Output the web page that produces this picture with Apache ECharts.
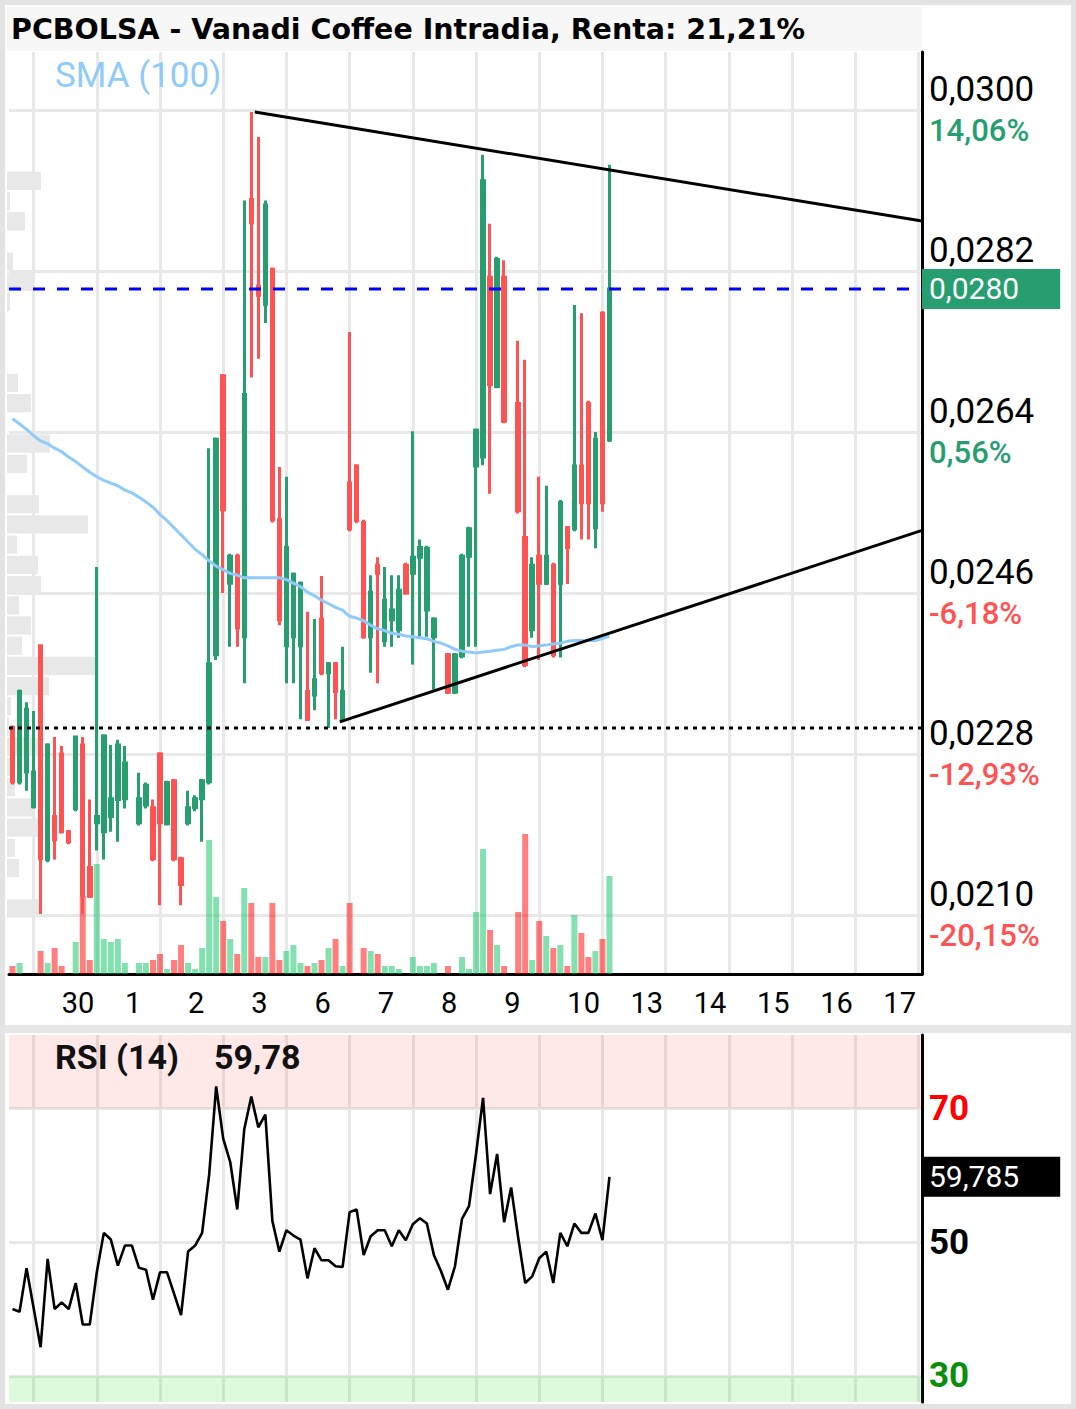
<!DOCTYPE html>
<html>
<head>
<meta charset="utf-8">
<script src="https://cdn.jsdelivr.net/npm/echarts@6/dist/echarts.min.js"></script>
<style>
  html, body { margin: 0; padding: 0; background: #fff; }
  #chart { width: 1076px; height: 1409px; }
</style>
</head>
<body>
<div id="chart"></div>
<script>
// hourly bars, 9 per session
const days = ['29', '30', '1', '2', '3', '6', '7', '8', '9', '10', '13', '14', '15', '16', '17']
const hours = ['09:00', '10:00', '11:00', '12:00', '13:00', '14:00', '15:00', '16:00', '17:00']
const firstHour = 2
const slotCount = 130

// [open, close, low, high]
const candles = [
  [0.02310, 0.02249, 0.02246, 0.02312], [0.02249, 0.02350, 0.02246, 0.02352],
  [0.02260, 0.02330, 0.02239, 0.02338], [0.02221, 0.02260, 0.02219, 0.02328],
  [0.02401, 0.02163, 0.02101, 0.02401], [0.02162, 0.02290, 0.02159, 0.02292],
  [0.02210, 0.02184, 0.02162, 0.02299], [0.02280, 0.02193, 0.02191, 0.02289],
  [0.02193, 0.02182, 0.02179, 0.02195], [0.02219, 0.02299, 0.02216, 0.02299],
  [0.02290, 0.02122, 0.02101, 0.02299], [0.02153, 0.02121, 0.02119, 0.02229],
  [0.02203, 0.02210, 0.02172, 0.02489], [0.02193, 0.02300, 0.02162, 0.02302],
  [0.02210, 0.02230, 0.02193, 0.02290], [0.02229, 0.02290, 0.02182, 0.02296],
  [0.02230, 0.02270, 0.02219, 0.02289], null,
  [0.02203, 0.02230, 0.02200, 0.02259], [0.02223, 0.02245, 0.02219, 0.02248],
  [0.02220, 0.02163, 0.02160, 0.02229], [0.02280, 0.02203, 0.02111, 0.02282],
  [0.02202, 0.02248, 0.02200, 0.02250], [0.02250, 0.02163, 0.02160, 0.02252],
  [0.02163, 0.02134, 0.02111, 0.02165], [0.02203, 0.02220, 0.02200, 0.02239],
  [0.02220, 0.02230, 0.02216, 0.02234], [0.02230, 0.02250, 0.02182, 0.02252],
  [0.02249, 0.02381, 0.02246, 0.02622], [0.02391, 0.02632, 0.02385, 0.02634],
  [0.02703, 0.02553, 0.02460, 0.02705], [0.02471, 0.02501, 0.02400, 0.02504],
  [0.02501, 0.02421, 0.02400, 0.02504], [0.02411, 0.02682, 0.02359, 0.02899],
  [0.02900, 0.02874, 0.02701, 0.02998], [0.02803, 0.02793, 0.02722, 0.02970],
  [0.02783, 0.02894, 0.02762, 0.02899], [0.02822, 0.02542, 0.02539, 0.02824],
  [0.02542, 0.02430, 0.02424, 0.02601], [0.02401, 0.02511, 0.02359, 0.02590],
  [0.02411, 0.02481, 0.02359, 0.02483], [0.02401, 0.02471, 0.02319, 0.02473],
  [0.02350, 0.02319, 0.02317, 0.02439], [0.02346, 0.02363, 0.02329, 0.02431],
  [0.02431, 0.02371, 0.02368, 0.02479], [0.02371, 0.02381, 0.02309, 0.02383],
  [0.02381, 0.02350, 0.02319, 0.02383], [0.02319, 0.02350, 0.02317, 0.02400],
  [0.02583, 0.02532, 0.02529, 0.02752], [0.02602, 0.02541, 0.02538, 0.02604],
  [0.02539, 0.02411, 0.02409, 0.02542], [0.02411, 0.02461, 0.02371, 0.02480],
  [0.02491, 0.02482, 0.02359, 0.02500], [0.02407, 0.02452, 0.02400, 0.02489],
  [0.02430, 0.02441, 0.02400, 0.02480], [0.02419, 0.02463, 0.02410, 0.02480],
  [0.02491, 0.02460, 0.02458, 0.02494], [0.02482, 0.02500, 0.02380, 0.02641],
  [0.02500, 0.02511, 0.02411, 0.02520], [0.02441, 0.02510, 0.02411, 0.02513],
  [0.02411, 0.02431, 0.02352, 0.02433], null,
  [0.02391, 0.02349, 0.02347, 0.02393], [0.02349, 0.02391, 0.02347, 0.02393],
  [0.02390, 0.02501, 0.02387, 0.02504], [0.02501, 0.02532, 0.02400, 0.02534],
  [0.02602, 0.02642, 0.02400, 0.02644], [0.02612, 0.02921, 0.02603, 0.02950],
  [0.02813, 0.02693, 0.02571, 0.02873], [0.02691, 0.02833, 0.02689, 0.02836],
  [0.02813, 0.02652, 0.02650, 0.02832], null,
  [0.02672, 0.02552, 0.02549, 0.02742], [0.02522, 0.02380, 0.02377, 0.02721],
  [0.02419, 0.02491, 0.02410, 0.02500], [0.02501, 0.02471, 0.02385, 0.02590],
  [0.02471, 0.02501, 0.02469, 0.02580], [0.02491, 0.02391, 0.02388, 0.02494],
  [0.02471, 0.02561, 0.02388, 0.02564], [0.02533, 0.02511, 0.02470, 0.02535],
  [0.02532, 0.02602, 0.02529, 0.02782], [0.02602, 0.02561, 0.02520, 0.02773],
  [0.02672, 0.02561, 0.02520, 0.02675], [0.02533, 0.02632, 0.02510, 0.02640],
  [0.02773, 0.02561, 0.02551, 0.02775], [0.02631, 0.02800, 0.02629, 0.02939]
]

// thousands of shares
const volumes = [
  80, 110, 0, 0, 230, 110, 260, 80, 0, 320,
  780, 140, 1100, 350, 320, 350, 110, 0, 110, 110,
  140, 200, 50, 140, 290, 110, 50, 260, 1340, 770,
  530, 350, 200, 860, 710, 170, 170, 710, 140, 230,
  290, 110, 80, 110, 140, 260, 350, 80, 710, 0,
  260, 230, 200, 80, 80, 50, 0, 170, 80, 80,
  110, 0, 80, 0, 170, 50, 620, 1250, 440, 290,
  80, 0, 620, 1400, 140, 530, 380, 260, 290, 80,
  590, 410, 170, 230, 350, 980
]

const sma100 = [
  0.02655, 0.02649, 0.02643, 0.02636, 0.02630, 0.02627, 0.02622, 0.02618, 0.02612, 0.02607,
  0.02601, 0.02595, 0.02590, 0.02586, 0.02583, 0.02580, 0.02575, 0.02572, 0.02567, 0.02562,
  0.02556, 0.02548, 0.02541, 0.02533, 0.02525, 0.02517, 0.02509, 0.02503, 0.02496, 0.02490,
  0.02486, 0.02482, 0.02480, 0.02477, 0.02477, 0.02477, 0.02477, 0.02477, 0.02477, 0.02475,
  0.02471, 0.02467, 0.02461, 0.02457, 0.02452, 0.02448, 0.02444, 0.02441, 0.02434, 0.02432,
  0.02429, 0.02424, 0.02420, 0.02418, 0.02415, 0.02414, 0.02412, 0.02411, 0.02410, 0.02409,
  0.02406, 0.02404, 0.02401, 0.02397, 0.02395, 0.02394, 0.02393, 0.02394, 0.02395, 0.02396,
  0.02397, 0.02400, 0.02402, 0.02402, 0.02400, 0.02401, 0.02402, 0.02403, 0.02404, 0.02406,
  0.02407, 0.02407, 0.02407, 0.02407, 0.02409, 0.02412
]

const rsi14 = [
  40.0, 39.6, 46.1, 40.2, 34.3, 47.5, 40.0, 41.0, 40.0, 43.9,
  37.7, 37.7, 45.5, 51.4, 50.4, 46.5, 49.5, 49.5, 46.2, 45.9,
  41.4, 45.5, 45.5, 42.3, 39.1, 48.6, 49.5, 51.4, 60.1, 73.3,
  65.5, 62.0, 54.9, 66.9, 71.8, 67.2, 69.1, 53.2, 48.6, 51.8,
  51.0, 50.4, 44.6, 49.1, 47.3, 47.3, 46.4, 46.3, 54.5, 54.9,
  48.1, 50.9, 51.8, 51.8, 49.4, 51.8, 50.3, 52.7, 53.6, 52.8,
  48.1, 45.7, 42.9, 46.4, 53.5, 55.4, 63.2, 71.6, 57.2, 63.2,
  53.0, 58.2, 50.7, 43.9, 44.9, 47.6, 48.6, 43.9, 51.4, 49.4,
  52.8, 51.4, 51.4, 54.3, 50.3, 59.785
]

// volume at price, top bin first
const profileTop = 0.0300
const profileStep = 0.000226
const profileVol = [
  0, 0, 0, 340, 30, 180, 0, 60, 260, 30,
  0, 0, 0, 110, 240, 0, 430, 200, 0, 320,
  810, 100, 310, 340, 120, 240, 150, 900, 420, 40,
  20, 320, 30, 80, 280, 330, 80, 120, 0, 340
]

const upperTrend = [[34.5, 0.02998], [129.5, 0.02876]]
const lowerTrend = [[46.6, 0.02316], [129.5, 0.02530]]
const lastPrice = 0.0280
const supportLevel = 0.02309
const lastRsi = 59.785

const priceTicks = [0.0300, 0.0282, 0.0264, 0.0246, 0.0228, 0.0210]
const priceTickText = ['0,0300', '0,0282', '0,0264', '0,0246', '0,0228', '0,0210']
const changeText = ['14,06%', '', '0,56%', '-6,18%', '-12,93%', '-20,15%']
const rsiTicks = [30, 50, 70]

const green = '#279e70'
const red = '#ff5252'
const grey = '#e8e8e8'
const font = 'Roboto'

const categories = days
  .flatMap((d) => hours.map((h) => d + ' ' + h))
  .slice(firstHour, firstHour + slotCount)

const isUp = (i) => candles[i] && candles[i][1] >= candles[i][0]
const dayStart = (i, v) => v.endsWith('09:00')
const gridEvery = (i, v) => v.endsWith('14:00')
const fullSpan = (y) => [[-0.5, y], [slotCount - 0.5, y]]

const profileData = profileVol.map((v, k) => [
  v,
  profileTop - (k + 1) * profileStep,
  profileTop - k * profileStep
])

const tagLabel = (text, bg) => ({
  show: true, formatter: text, distance: 0,
  fontFamily: font, fontSize: 30, lineHeight: 32, color: '#fff',
  backgroundColor: bg, padding: [4, 41, 4, 7]
})

const chart = echarts.init(document.getElementById('chart'), null, { renderer: 'svg' })

chart.setOption({
  animation: false,
  backgroundColor: '#fff',
  textStyle: { fontFamily: font },
  title: [
    {
      text: 'PCBOLSA - Vanadi Coffee Intradia, Renta: 21,21%',
      left: 11, top: 11, padding: 0,
      textStyle: { fontFamily: 'DejaVu Sans', fontWeight: 'bold', fontSize: 28.5, lineHeight: 36, color: '#000' }
    },
    {
      text: 'SMA (100)',
      left: 55, top: 55, padding: 0,
      textStyle: { fontFamily: font, fontWeight: 'normal', fontSize: 35, lineHeight: 40, color: '#90caf9' }
    },
    {
      text: 'RSI (14)',
      left: 55, top: 1037, padding: 0,
      textStyle: { fontFamily: font, fontWeight: 'bold', fontSize: 34, lineHeight: 40, color: '#111' }
    },
    {
      text: '59,78',
      left: 214, top: 1037, padding: 0,
      textStyle: { fontFamily: font, fontWeight: 'bold', fontSize: 34, lineHeight: 40, color: '#111' }
    }
  ],
  graphic: [
    { type: 'rect', z: -1, silent: true, shape: { x: 7, y: 7, width: 915, height: 44 }, style: { fill: '#f7f7f7' } },
    { type: 'rect', silent: true, shape: { x: 0, y: 1025, width: 1076, height: 8 }, style: { fill: '#e6e6e6' } },
    { type: 'rect', z: 100, silent: true, shape: { x: 2.5, y: 2.5, width: 1071, height: 1404 }, style: { fill: 'none', stroke: '#e3e3e3', lineWidth: 5 } }
  ],
  grid: [
    { left: 9, right: 154, top: 52, bottom: 435 },
    { left: 9, right: 154, top: 1035, bottom: 7 }
  ],
  xAxis: [
    {
      type: 'category', gridIndex: 0, data: categories, boundaryGap: true,
      axisLine: { show: true, onZero: false, lineStyle: { color: '#000', width: 3 } },
      axisTick: { show: false },
      axisLabel: {
        interval: dayStart, formatter: (v) => v.split(' ')[0], align: 'left',
        fontFamily: font, fontSize: 29, color: '#000', margin: 14
      },
      splitLine: { show: true, interval: gridEvery, alignWithLabel: true, lineStyle: { color: grey, width: 3 } }
    },
    { type: 'value', gridIndex: 0, min: -0.5, max: slotCount - 0.5, show: false },
    { type: 'value', gridIndex: 0, min: 0, max: 9130, show: false },
    {
      type: 'category', gridIndex: 1, data: categories, boundaryGap: true,
      axisLine: { show: false }, axisTick: { show: false }, axisLabel: { show: false },
      splitLine: { show: true, interval: gridEvery, alignWithLabel: true, lineStyle: { color: grey, width: 3 } }
    },
    { type: 'value', gridIndex: 1, min: -0.5, max: slotCount - 0.5, show: false }
  ],
  yAxis: [
    {
      type: 'value', gridIndex: 0, position: 'right', min: 0.02034, max: 0.03065,
      axisLine: { show: true, onZero: false, lineStyle: { color: '#000', width: 3 } },
      axisTick: { show: false, customValues: priceTicks },
      splitLine: { show: true, lineStyle: { color: grey, width: 3 } },
      axisLabel: {
        customValues: priceTicks,
        margin: 7,
        formatter: (v) => {
          const i = priceTicks.findIndex((t) => Math.abs(t - v) < 1e-7)
          if (i < 0) return ''
          const c = changeText[i]
          const cls = c.startsWith('-') ? 'dn' : 'up'
          return '{p|' + priceTickText[i] + '}\n{' + cls + '|' + (c || ' ') + '}'
        },
        rich: {
          p: { fontFamily: font, fontSize: 35, lineHeight: 41, color: '#000' },
          up: { fontFamily: font, fontSize: 31, fontWeight: 500, lineHeight: 41, color: green },
          dn: { fontFamily: font, fontSize: 31, fontWeight: 500, lineHeight: 41, color: red }
        }
      }
    },
    { type: 'value', gridIndex: 0, min: 0, max: 9220, show: false },
    {
      type: 'value', gridIndex: 1, position: 'right', min: 26.1, max: 81,
      axisLine: { show: true, onZero: false, lineStyle: { color: '#000', width: 3 } },
      axisTick: { show: false, customValues: rsiTicks },
      splitLine: { show: true, lineStyle: { color: grey, width: 3 } },
      axisLabel: {
        customValues: rsiTicks,
        margin: 7,
        formatter: (v) => '{r' + v + '|' + v + '}',
        rich: {
          r70: { fontFamily: font, fontSize: 35, fontWeight: 'bold', color: '#ff0000' },
          r50: { fontFamily: font, fontSize: 35, fontWeight: 'bold', color: '#000' },
          r30: { fontFamily: font, fontSize: 35, fontWeight: 'bold', color: '#0a8f0a' }
        }
      }
    }
  ],
  series: [
    {
      name: 'Perfil', type: 'custom', xAxisIndex: 2, yAxisIndex: 0, z: 1, silent: true,
      data: profileData,
      encode: { x: 0, y: [1, 2] },
      renderItem: (params, api) => {
        const a = api.coord([0, api.value(2)])
        const b = api.coord([api.value(0), api.value(1)])
        return {
          type: 'rect',
          shape: { x: a[0] - 2, y: a[1] + 1, width: b[0] - a[0], height: b[1] - a[1] - 2 },
          style: { fill: grey }
        }
      }
    },
    {
      name: 'Volumen', type: 'bar', xAxisIndex: 0, yAxisIndex: 1, z: 2, barWidth: 6, silent: true,
      data: volumes.map((v, i) => ({
        value: v,
        itemStyle: { color: isUp(i) ? 'rgba(5,195,95,0.5)' : 'rgba(255,0,0,0.5)' }
      }))
    },
    {
      name: 'Vanadi Coffee', type: 'candlestick', xAxisIndex: 0, yAxisIndex: 0, z: 3,
      barWidth: 3,
      data: candles.map((d) => d || ['-', '-', '-', '-']),
      itemStyle: { color: green, color0: red, borderColor: green, borderColor0: red, borderWidth: 3 }
    },
    {
      name: 'SMA (100)', type: 'line', xAxisIndex: 0, yAxisIndex: 0, z: 4,
      data: sma100, symbol: 'none', silent: true,
      lineStyle: { color: '#90caf9', width: 3 }
    },
    {
      name: 'upper', type: 'line', xAxisIndex: 1, yAxisIndex: 0, z: 5, silent: true,
      data: upperTrend, symbol: 'none', lineStyle: { color: '#000', width: 3 }
    },
    {
      name: 'lower', type: 'line', xAxisIndex: 1, yAxisIndex: 0, z: 5, silent: true,
      data: lowerTrend, symbol: 'none', lineStyle: { color: '#000', width: 3 }
    },
    {
      name: 'soporte', type: 'line', xAxisIndex: 1, yAxisIndex: 0, z: 6, silent: true,
      data: fullSpan(supportLevel), symbol: 'none',
      lineStyle: { color: '#000', width: 3, type: [4, 5] }
    },
    {
      name: 'ultimo', type: 'line', xAxisIndex: 1, yAxisIndex: 0, z: 6, silent: true,
      data: fullSpan(lastPrice), symbol: 'none',
      lineStyle: { color: '#0000ff', width: 3, type: [12, 12] },
      endLabel: tagLabel('0,0280', green)
    },
    {
      name: 'RSI (14)', type: 'line', xAxisIndex: 3, yAxisIndex: 2, z: 3,
      data: rsi14, symbol: 'none', silent: true,
      lineStyle: { color: '#000', width: 2.6 },
      markArea: {
        silent: true,
        data: [
          [{ yAxis: 70, itemStyle: { color: 'rgba(255,0,0,0.09)' } }, { yAxis: 81 }],
          [{ yAxis: 26.1, itemStyle: { color: 'rgba(0,220,0,0.13)' } }, { yAxis: 30 }]
        ]
      }
    },
    {
      name: 'RSI tag', type: 'line', xAxisIndex: 4, yAxisIndex: 2, z: 6, silent: true,
      data: fullSpan(lastRsi), symbol: 'none',
      lineStyle: { opacity: 0 },
      endLabel: tagLabel('59,785', '#000')
    }
  ]
})
</script>
</body>
</html>
